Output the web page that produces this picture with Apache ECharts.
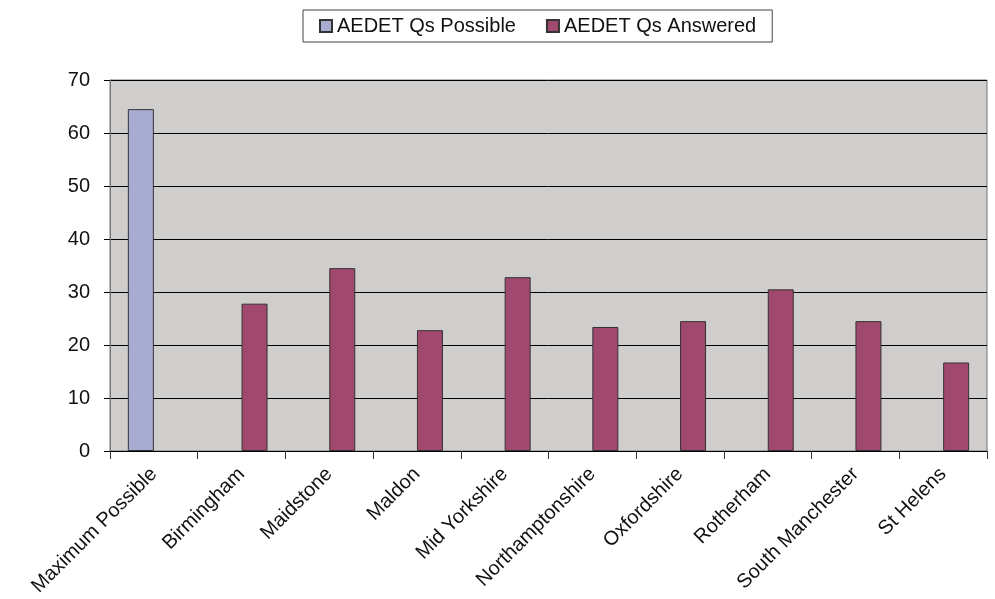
<!DOCTYPE html>
<html>
<head>
<meta charset="utf-8">
<script src="https://cdn.jsdelivr.net/npm/echarts@6/dist/echarts.min.js"></script>
<style>
html, body { margin: 0; padding: 0; background: #fff; }
#main { width: 995px; height: 599px; }
</style>
</head>
<body>
<div id="main"></div>
<script>
var categories = ['Maximum Possible', 'Birmingham', 'Maidstone', 'Maldon', 'Mid Yorkshire',
    'Northamptonshire', 'Oxfordshire', 'Rotherham', 'South Manchester', 'St Helens'];
var possible = [64.5, '-', '-', '-', '-', '-', '-', '-', '-', '-'];
var answered = ['-', 27.8, 34.5, 22.8, 32.8, 23.4, 24.5, 30.5, 24.5, 16.7];
var yTicks = [0, 10, 20, 30, 40, 50, 60, 70];

var chart = echarts.init(document.getElementById('main'));
var font = 'Liberation Sans, Arial, sans-serif';

var option = {
    animation : false,
    textStyle : { fontFamily : font },
    legend : {
        top : 10,
        left : 303,
        icon : 'rect',
        itemWidth : 12,
        itemHeight : 12,
        itemGap : 30,
        padding : [6, 16, 6, 16],
        borderColor : '#444',
        borderWidth : 1,
        textStyle : { fontSize : 20, color : '#111', fontFamily : font },
        data : ['AEDET Qs Possible', 'AEDET Qs Answered']
    },
    grid : {
        left : 110,
        right : 8,
        top : 80,
        bottom : 148,
        show : true,
        backgroundColor : '#cfcecc',
        borderColor : '#777',
        borderWidth : 1
    },
    xAxis : {
        type : 'category',
        data : categories,
        axisLine : { lineStyle : { color : '#000', width : 1 } },
        axisTick : { show : true, length : 8, lineStyle : { color : '#333' } },
        axisLabel : {
            rotate : 45,
            fontSize : 20,
            color : '#111',
            margin : 20,
            interval : 0
        }
    },
    yAxis : {
        type : 'value',
        min : yTicks[0],
        max : yTicks[yTicks.length - 1],
        interval : 10,
        axisLine : { show : true, lineStyle : { color : '#777' } },
        axisTick : { show : true, length : 6, lineStyle : { color : '#000' } },
        axisLabel : { fontSize : 20, color : '#111', margin : 20 },
        splitLine : { show : true, lineStyle : { color : '#000', width : 1 } }
    },
    series : [
        {
            name : 'AEDET Qs Possible',
            type : 'bar',
            barWidth : 26,
            barGap : '0%',
            itemStyle : { color : '#a9acd2', borderColor : '#333', borderWidth : 1 },
            data : possible
        },
        {
            name : 'AEDET Qs Answered',
            type : 'bar',
            barWidth : 26,
            barGap : '0%',
            itemStyle : { color : '#a0486e', borderColor : '#333', borderWidth : 1 },
            data : answered
        }
    ]
};

chart.setOption(option);
</script>
</body>
</html>
